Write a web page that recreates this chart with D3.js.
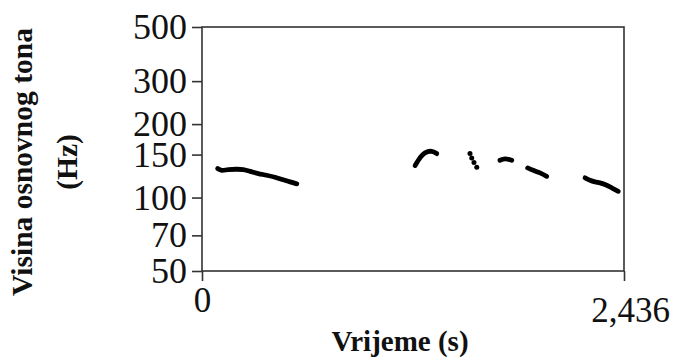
<!DOCTYPE html>
<html>
<head>
<meta charset="utf-8">
<script src="https://cdn.jsdelivr.net/npm/d3@7"></script>
<style>
  body { margin: 0; background: #fff; }
  svg { display: block; }
  .axis path, .axis line { stroke: #333; stroke-width: 1.6; }
  .axis text { font-family: "Liberation Serif", "Times New Roman", serif; fill: #111; }
  .axis text.lbl { font-weight: bold; }
</style>
</head>
<body>
<svg></svg>
<script>
// pitch contour (time in s, F0 in Hz)
const seg1 = [[0.091, 131.4], [0.114, 129.3], [0.152, 130.2], [0.200, 130.6], [0.238, 130.2], [0.277, 128.1],
  [0.325, 125.4], [0.373, 123.4], [0.421, 121.1], [0.469, 118.2], [0.508, 115.9], [0.547, 113.8]]
const seg2 = [[1.230, 135.2], [1.258, 145.4], [1.287, 152.4], [1.326, 154.7], [1.355, 151.4]]
const seg3 = [[1.547, 151.4], [1.557, 145.4], [1.570, 139.3], [1.586, 133.0]]
const seg4 = [[1.720, 142.1], [1.749, 144.0], [1.788, 142.1]]
const seg5 = [[1.880, 132.3], [1.912, 129.3], [1.951, 126.2], [1.990, 122.2]]
const seg6 = [[2.211, 120.5], [2.240, 117.7], [2.269, 115.9], [2.297, 114.8], [2.326, 113.0], [2.365, 109.6], [2.403, 106.1]]
const segments = [seg1, seg2, seg4, seg5, seg6]
const dotted = [seg3]

const yTicks = [50, 70, 100, 150, 200, 300, 500]
const xTicks = [0, 2.436]
const xTickLabels = ["0", "2,436"]

const width = 676, height = 357
const margin = { top: 27, right: 52, bottom: 86, left: 202 }

const svg = d3.select('svg').attr("width", width).attr("height", height)

const x = d3.scaleLinear().domain([0, 2.436]).range([margin.left, width - margin.right])
const y = d3.scaleLog().domain([50, 500]).range([height - margin.bottom, margin.top])

// frame
svg.append("rect")
    .attr("x", x(0)).attr("y", y(500))
    .attr("width", x(2.436) - x(0)).attr("height", y(50) - y(500))
    .attr("fill", "none").attr("stroke", "#333").attr("stroke-width", 1.6)

const yAxis = svg.append("g").attr("class", "axis y")
    .attr("transform", `translate(${x(0)},0)`)
    .call(d3.axisLeft(y).tickValues(yTicks).tickFormat(d3.format("d")).tickSize(10).tickSizeOuter(0).tickPadding(5))
yAxis.select(".domain").remove()
yAxis.selectAll("text").style("font-size", "36px")

const xAxis = svg.append("g").attr("class", "axis x")
    .attr("transform", `translate(0,${y(50)})`)
    .call(d3.axisBottom(x).tickValues(xTicks).tickFormat((d, i) => xTickLabels[i]).tickSize(10).tickSizeOuter(0).tickPadding(6))
xAxis.select(".domain").remove()
xAxis.selectAll("text").style("font-size", "35px")
xAxis.selectAll("text").filter((d, i) => i === 1).attr("dx", 6).attr("dy", "1.0em")

// axis titles
const titles = svg.append("g").attr("class", "axis titles")

titles.append("text").attr("class", "lbl")
    .attr("x", 400).attr("y", 351)
    .attr("text-anchor", "middle")
    .style("font-size", "29px")
    .text("Vrijeme (s)")

const yTitle = titles.append("text").attr("class", "lbl")
    .attr("transform", `translate(32, 162) rotate(-90)`)
    .attr("text-anchor", "middle")
    .style("font-size", "29.5px")
yTitle.append("tspan").attr("x", 0).attr("y", 0).text("Visina osnovnog tona")
yTitle.append("tspan").attr("x", 0).attr("y", 45).text("(Hz)")

// contour
const line = d3.line().x(d => x(d[0])).y(d => y(d[1])).curve(d3.curveCatmullRom)

svg.append("g").selectAll("path.seg")
    .data(segments)
    .join("path")
    .attr("class", "seg")
    .attr("d", line)
    .attr("fill", "none").attr("stroke", "#000")
    .attr("stroke-width", 4.8).attr("stroke-linecap", "round").attr("stroke-linejoin", "round")

svg.append("g").selectAll("g.dots")
    .data(dotted)
    .join("g")
    .attr("class", "dots")
    .selectAll("circle")
    .data(d => d)
    .join("circle")
    .attr("cx", d => x(d[0])).attr("cy", d => y(d[1])).attr("r", 2.5)
    .attr("fill", "#000")
</script>
</body>
</html>
